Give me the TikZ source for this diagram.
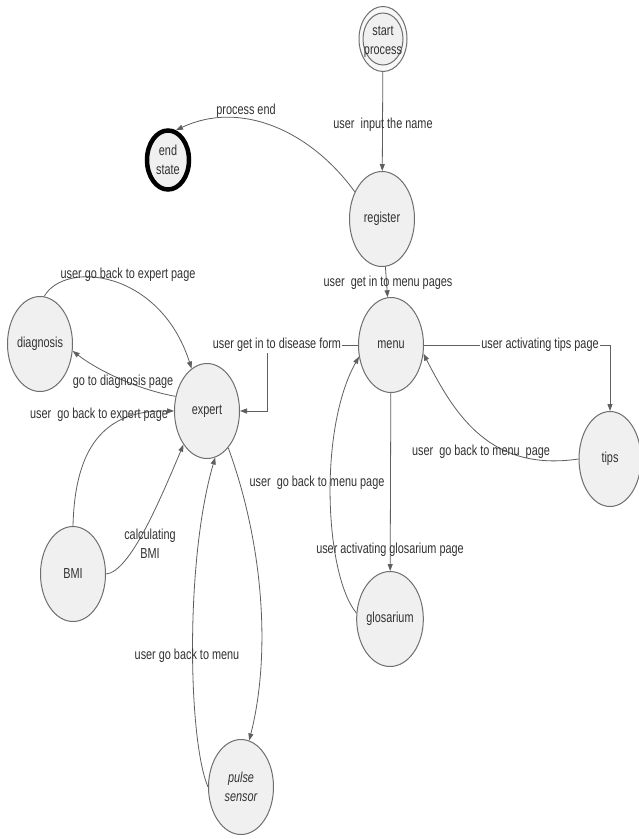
\documentclass[tikz,border=0pt]{standalone}
\usepackage{fontspec}
\setmainfont{Liberation Sans}[FakeStretch=0.75]
\usetikzlibrary{shapes.geometric,arrows.meta}
\definecolor{nodefill}{RGB}{240,240,240}
\definecolor{nodeline}{RGB}{110,110,110}
\definecolor{edgecol}{RGB}{95,95,95}
\definecolor{txt}{RGB}{50,50,50}
\begin{document}
\begin{tikzpicture}[x=1pt,y=-1pt,
  every node/.style={font=\fontsize{14.5}{19}\selectfont},
  state/.style={ellipse, draw=nodeline, line width=1pt, fill=nodefill,
    minimum width=65pt, minimum height=95pt, inner sep=0pt, text=txt, align=center},
  lbl/.style={text=txt, inner sep=1pt, align=center},
  lblbg/.style={lbl, fill=white},
  conn/.style={draw=edgecol, line width=0.8pt, -{Triangle[length=7pt,width=5pt]}}]
\fill[white] (0,0) rectangle (639,839);
\useasboundingbox (0,0) rectangle (639,839);
% nodes
\node[state, minimum width=48pt, minimum height=65pt, fill=nodefill!50] (start) at (383,39) {};
\node[state, minimum width=40pt, minimum height=52pt] (startin) at (start.center) {};
\node[lbl, inner sep=0pt] (starttxt) at (383,42) {start\\process};
\node[state, minimum width=42pt, minimum height=59pt, line width=4.5pt, draw=black] (endst) at (168,160) {end\\state};
\node[state] (register) at (382,219) {register};
\node[state] (menu) at (391,345) {menu};
\node[state, minimum width=62pt] (tips) at (610,459) {tips};
\node[state] (diagnosis) at (40,344) {diagnosis};
\node[state] (expert) at (207,411) {expert};
\node[state] (BMI) at (73,574) {BMI};
\node[state] (glosarium) at (390,619) {glosarium};
\node[state] (pulse) at (241,787) {\itshape pulse\\\itshape sensor};
% connectors
\draw[conn] (start) -- (register);
\draw[conn] (register.135) .. controls (310,130) and (240,100) .. (endst.75);
\draw[conn] (register) -- (menu);
\draw[conn] (menu.west) -- (267,345) |- (expert.east);
\draw[conn] (menu.east) -| (tips.north);
\draw[conn] (tips.west) .. controls (490,472) and (455,415) .. (menu.-15);
\draw[conn] (menu) -- (glosarium);
\draw[conn] (glosarium.170) .. controls (325,575) and (318,430) .. (menu.200);
\draw[conn] (diagnosis.85) .. controls (65,260) and (160,270) .. (expert.110);
\draw[conn] (expert.155) .. controls (140,390) and (100,372) .. (diagnosis.-12);
\draw[conn] (BMI.north) .. controls (75,440) and (110,410) .. (expert.west);
\draw[conn] (BMI.east) .. controls (130,572) and (160,500) .. (expert.235);
\draw[conn] (expert.-60) .. controls (262,540) and (272,650) .. (pulse.80);
\draw[conn] (pulse.west) .. controls (188,740) and (185,560) .. (expert.-80);
% labels
\node[lbl] (l1) at (383,125) {user~~input the name};
\node[lbl] (l2) at (246,111) {process end};
\node[lbl] (l3) at (388,283) {user~~get in to menu pages};
\node[lblbg] (l4) at (277,345) {user get in to disease form};
\node[lblbg] (l5) at (540,345) {user activating tips page};
\node[lbl] (l6) at (481,452) {user~~go back to menu~~page};
\node[lbl] (l7) at (390,550) {user activating glosarium page};
\node[lbl] (l8) at (317,483) {user~~go back to menu page};
\node[lbl] (l9) at (128,275) {user go back to expert page};
\node[lbl] (l10) at (123,382) {go to diagnosis page};
\node[lbl] (l11) at (99,415) {user~~go back to expert page};
\node[lbl] (l12) at (150,544) {calculating\\BMI};
\node[lbl] (l13) at (187,656) {user go back to menu};
\end{tikzpicture}
\end{document}
